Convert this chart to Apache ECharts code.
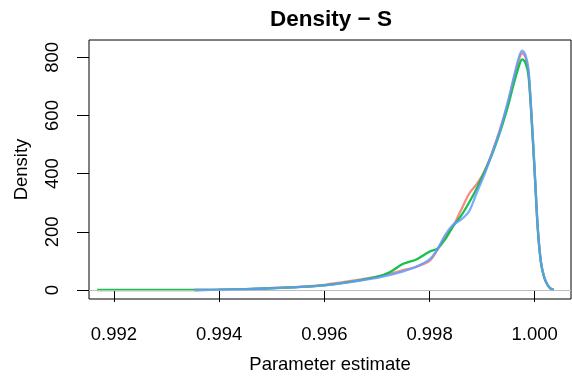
<!DOCTYPE html>
<html>
<head>
<meta charset="utf-8">
<script src="https://cdn.jsdelivr.net/npm/echarts@6/dist/echarts.min.js"></script>
<style>
html,body{margin:0;padding:0;background:#fff;}
#c{width:572px;height:383px;}
</style>
</head>
<body>
<div id="c"></div>
<script>
// Parameter estimate grid (x)
const xs = [0.99168, 0.9930, 0.99353, 0.9940, 0.9945, 0.9950, 0.9955, 0.9960, 0.9965, 0.9970,
  0.99725, 0.9975, 0.99775, 0.9980, 0.99815, 0.9983, 0.99845, 0.9986, 0.99875, 0.9989,
  0.99905, 0.9992, 0.99935, 0.9995, 0.9996, 0.9997, 0.99976, 0.99982, 0.99988, 0.99994,
  1.0000, 1.00006, 1.00012, 1.00018, 1.00024, 1.0003, 1.00036];
// Density values per chain
const redY = [null, null, 0, 1, 3, 7, 11, 18, 31, 46,
  56, 68, 80, 100, 138, 185, 220, 275, 330, 365,
  410, 478, 558, 650, 725, 792, 814, 802, 752, 595,
  405, 208, 94, 44, 19, 6, 1];
const greenY = [0, 0, 0, 1, 3, 6, 10, 16, 28, 45,
  62, 90, 105, 132, 142, 175, 220, 255, 300, 350,
  408, 472, 548, 638, 708, 770, 793, 783, 740, 590,
  400, 205, 92, 43, 18, 5, 1];
const blueY = [null, null, 0, 1, 3, 6, 10, 16, 28, 42,
  52, 64, 80, 105, 140, 190, 225, 242, 270, 335,
  400, 475, 555, 655, 730, 800, 823, 810, 760, 600,
  410, 210, 95, 45, 20, 6, 1];
const xTicks = [0.992, 0.994, 0.996, 0.998, 1.000];
const yTicks = [0, 200, 400, 600, 800];

const pts = ys => xs.map((x, i) => [x, ys[i]]);
const font = 'Liberation Sans, Arial, sans-serif';

const chart = echarts.init(document.getElementById('c'));
chart.setOption({
  animation: false,
  title: {
    text: 'Density \u2212 S',
    left: 326, top: 3, textAlign: 'center',
    textStyle: {fontFamily: font, fontSize: 22.5, fontWeight: 'bold', color: '#000'}
  },
  grid: {left: 89, right: 1, top: 40, bottom: 84, show: true, borderColor: '#000', borderWidth: 1},
  xAxis: {
    type: 'value', min: 0.991525, max: 1.00069,
    name: 'Parameter estimate', nameLocation: 'middle', nameGap: 56,
    nameTextStyle: {fontFamily: font, fontSize: 18.5, color: '#000'},
    axisLine: {show: false},
    splitLine: {show: false},
    axisTick: {show: true, inside: false, length: 12, customValues: xTicks, lineStyle: {color: '#000'}},
    axisLabel: {customValues: xTicks, margin: 26, fontFamily: font, fontSize: 18.5, color: '#000',
      formatter: v => v.toFixed(3)}
  },
  yAxis: {
    type: 'value', min: -30.9, max: 859.5,
    name: 'Density', nameLocation: 'middle', nameGap: 58,
    nameTextStyle: {fontFamily: font, fontSize: 18.5, color: '#000'},
    axisLine: {show: false},
    splitLine: {show: false},
    axisTick: {show: true, inside: false, length: 12, customValues: yTicks, lineStyle: {color: '#000'}},
    axisLabel: {customValues: yTicks, rotate: 90, margin: 27, fontFamily: font, fontSize: 18.5, color: '#000'}
  },
  series: [
    {type: 'line', data: [], z: 1, silent: true,
      markLine: {silent: true, symbol: 'none', label: {show: false},
        lineStyle: {color: '#bebebe', type: 'solid', width: 1}, data: [{yAxis: 0}]}},
    {type: 'line', data: pts(redY), showSymbol: false, smooth: 0.3,
      lineStyle: {color: 'rgba(248,118,109,0.85)', width: 2.3}, z: 3},
    {type: 'line', data: pts(greenY), showSymbol: false, smooth: 0.3,
      lineStyle: {color: 'rgba(0,186,56,0.9)', width: 2.3}, z: 4},
    {type: 'line', data: pts(blueY), showSymbol: false, smooth: 0.3,
      lineStyle: {color: 'rgba(97,156,255,0.85)', width: 2.3}, z: 5}
  ]
});
</script>
</body>
</html>
